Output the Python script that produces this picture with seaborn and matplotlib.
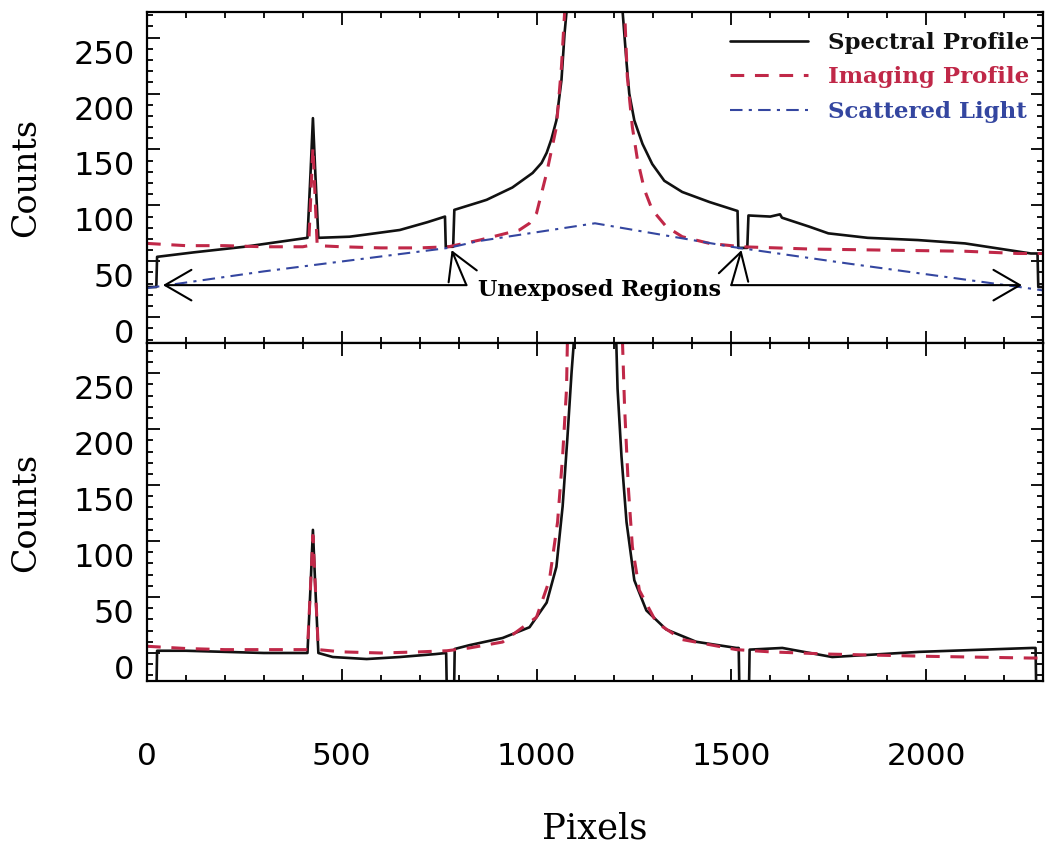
import matplotlib
matplotlib.use("Agg")
import matplotlib.pyplot as plt
import matplotlib.transforms as mtransforms
from matplotlib.ticker import MultipleLocator
import seaborn as sns

# --- values ---
# top panel: raw profiles
spec_top_x = [0, 24, 26, 120, 250, 412, 420, 426, 432, 440,
              520, 564, 649, 720, 765, 767, 786, 789, 854, 872,
              938, 990, 1013, 1026, 1038, 1051, 1064, 1072, 1077, 1100, 1150,
              1200, 1215, 1221, 1231, 1238, 1251, 1272, 1297, 1328, 1374, 1444, 1516,
              1518, 1541, 1544, 1600, 1625, 1630, 1700, 1749, 1850, 1979,
              2100, 2269, 2286, 2288, 2300]
spec_top_y = [27, 27, 54, 58, 63, 71, 130, 178, 130, 71,
              72, 74, 78, 85, 90, 63, 63, 96, 103, 105,
              116, 129, 138, 147, 159, 176, 212, 254, 273, 600, 1500,
              600, 300, 273, 228, 200, 176, 155, 137, 122, 112, 103, 95,
              62, 62, 91, 90, 92, 89, 81, 75, 71, 69,
              66, 57, 57, 27, 27]

img_top_x = [0, 100, 200, 300, 400, 415, 422, 426, 430, 437,
             500, 600, 700, 774, 854, 956, 982, 1000, 1026, 1051,
             1064, 1072, 1080, 1150, 1215, 1226, 1233, 1246, 1259, 1277,
             1297, 1333, 1374, 1444, 1528, 1700, 1895, 2100, 2236, 2300]
img_top_y = [66, 64, 64, 63, 63, 64, 120, 152, 120, 64,
             63, 62, 62, 63, 69, 78, 84, 93, 129, 170,
             224, 272, 400, 1200, 400, 275, 215, 170, 141, 114,
             96, 81, 72, 66, 63, 61, 60, 59, 57, 57]

scat_x = [0, 300, 774, 850, 1150, 1500, 1800, 2240, 2300]
scat_y = [26, 41, 62, 68, 84, 63, 48, 27, 24]

# bottom panel: scattered light removed
spec_bot_x = [0, 24, 26, 100, 200, 300, 412, 420, 426, 432,
              440, 477, 564, 649, 740, 768, 770, 788, 790, 828,
              913, 982, 1026, 1051, 1067, 1079, 1090, 1095, 1120, 1150,
              1180, 1205, 1208, 1218, 1231, 1251, 1282, 1333, 1410, 1513,
              1519, 1521, 1545, 1547, 1631, 1759, 1982, 2272, 2281, 2283, 2300]
spec_bot_y = [-40, -40, 2, 2, 1, 0, 0, 60, 110, 60,
              0, -3.6, -5.4, -3.6, -1, 0, -40, -40, 3.6, 7,
              13.4, 23, 45, 77, 131, 191, 251, 274, 600, 1500,
              600, 274, 236, 176, 117, 65, 38, 21, 10, 4.5,
              4.5, -40, -40, 3, 4.5, -3.6, 1, 4.5, 4.5, -40, -40]

img_bot_x = [0, 100, 200, 300, 412, 420, 426, 432, 440, 500,
             600, 700, 770, 828, 913, 1000, 1033, 1054, 1067, 1077,
             1079, 1100, 1150, 1200, 1221, 1226, 1236, 1246, 1264, 1308,
             1374, 1513, 1600, 1753, 2009, 2265, 2300]
img_bot_y = [6, 4, 3, 3, 3, 60, 105, 60, 3, 1,
             0, 1, 2, 4.5, 9.8, 32, 65, 117, 176, 236,
             274, 600, 1400, 600, 274, 220, 146, 95, 56, 27,
             12, 3, 1, -1, -3, -4.5, -4.5]

series_labels = ["Spectral Profile", "Imaging Profile", "Scattered Light"]
series_colors = ["#111111", "#c02848", "#3446a0"]
y_ticks = [0, 50, 100, 150, 200, 250]
x_ticks = [0, 500, 1000, 1500, 2000]

sns.set_theme(style="ticks")
plt.rcParams['font.family'] = ['DejaVu Sans']

fig = plt.figure(figsize=(10.46, 8.51), dpi=100)
ax1 = fig.add_axes([0.1405, 0.597, 0.8566, 0.389])
ax2 = fig.add_axes([0.1405, 0.1998, 0.8566, 0.3972])

dashed = (0, (4.5, 3.5))
dashdot = (0, (6, 3, 1.5, 3))

sns.lineplot(x=spec_top_x, y=spec_top_y, ax=ax1, color=series_colors[0], lw=1.9,
             sort=False, estimator=None, label=series_labels[0])
sns.lineplot(x=img_top_x, y=img_top_y, ax=ax1, color=series_colors[1], lw=2.2,
             sort=False, estimator=None, label=series_labels[1])
sns.lineplot(x=scat_x, y=scat_y, ax=ax1, color=series_colors[2], lw=1.5,
             sort=False, estimator=None, label=series_labels[2])
ax1.lines[1].set_linestyle(dashed)
ax1.lines[2].set_linestyle(dashdot)

sns.lineplot(x=spec_bot_x, y=spec_bot_y, ax=ax2, color=series_colors[0], lw=1.9,
             sort=False, estimator=None)
sns.lineplot(x=img_bot_x, y=img_bot_y, ax=ax2, color=series_colors[1], lw=2.2,
             sort=False, estimator=None)
ax2.lines[1].set_linestyle(dashed)

ax1.set_ylim(-23, 273)
ax2.set_ylim(-25, 277)

# IDL-style labels sit a little below their ticks
label_shift = mtransforms.ScaledTranslation(0, -0.14, fig.dpi_scale_trans)
for ax in (ax1, ax2):
    ax.set_xlim(0, 2300)
    ax.set_xticks(x_ticks)
    ax.set_yticks(y_ticks)
    ax.xaxis.set_minor_locator(MultipleLocator(100))
    ax.yaxis.set_minor_locator(MultipleLocator(10))
    ax.tick_params(which="both", direction="in", top=True, right=True,
                   color="black", width=1.3)
    ax.tick_params(which="major", length=9)
    ax.tick_params(which="minor", length=4.5)
    ax.tick_params(axis="y", labelsize=23, pad=9, labelcolor="black")
    for s in ax.spines.values():
        s.set_color("black")
        s.set_linewidth(1.6)
    ax.set_ylabel("Counts", family="DejaVu Serif", fontsize=24, color="black")
    ax.yaxis.set_label_coords(-0.117, 0.5)
    ax.set_xlabel("")
    for t in ax.yaxis.get_major_ticks():
        t.label1.set_transform(t.label1.get_transform() + label_shift)

ax1.tick_params(axis="x", labelbottom=False)
ax2.tick_params(axis="x", labelsize=22.5, pad=44, labelcolor="black")
ax2.set_xlabel("Pixels", family="DejaVu Serif", fontsize=25.5, color="black")
ax2.xaxis.set_label_coords(0.5, -0.385)

# unexposed region markers
arrow_kw = dict(arrowstyle="->,head_length=0.95,head_width=0.55", color="black",
                lw=1.5, shrinkA=0, shrinkB=0, mutation_scale=20)
ax1.annotate("", xy=(41, 28.7), xytext=(820, 28.7), arrowprops=arrow_kw)
ax1.annotate("", xy=(782, 60), xytext=(820, 28.7), arrowprops=arrow_kw)
ax1.annotate("", xy=(2246, 28.7), xytext=(1500, 28.7), arrowprops=arrow_kw)
ax1.annotate("", xy=(1526, 60), xytext=(1500, 28.7), arrowprops=arrow_kw)
ax1.text(1162, 24, "Unexposed Regions", ha="center", va="center",
         family="DejaVu Serif", weight="bold", fontsize=16, color="black")

leg = ax1.legend(handles=ax1.lines[:3], labels=series_labels, loc="upper right",
                 bbox_to_anchor=(0.985, 0.94), frameon=False, borderpad=0,
                 borderaxespad=0, handlelength=3.4, handletextpad=0.87,
                 labelspacing=0.54,
                 prop=dict(family="DejaVu Serif", weight="bold", size=16.5))
for txt, c in zip(leg.get_texts(), series_colors):
    txt.set_color(c)

fig.savefig("out.png", dpi=100, facecolor="white")
